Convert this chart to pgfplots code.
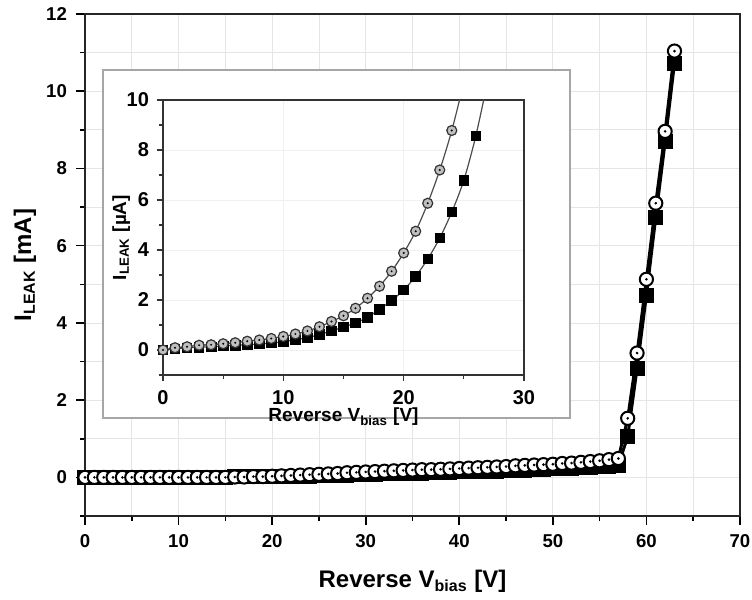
\documentclass[border=0pt]{standalone}
\usepackage{fontspec}
\setmainfont{Liberation Sans}
\usepackage{pgfplots}
\pgfplotsset{compat=1.18}

\pgfdeclareplotmark{codot}{%
  \pgfpathcircle{\pgfpointorigin}{\pgfplotmarksize}%
  \pgfusepathqfillstroke
  \begin{pgfscope}%
    \pgfsetfillcolor{black}%
    \pgfpathcircle{\pgfpointorigin}{0.22\pgfplotmarksize}%
    \pgfusepathqfill
  \end{pgfscope}%
}

\begin{document}
\begin{tikzpicture}
\useasboundingbox (0,0) rectangle (376pt,300pt);

% ---------------- main axis ----------------
\begin{axis}[
  at={(42.5pt,42pt)}, anchor=south west,
  scale only axis, width=327.5pt, height=251pt,
  xmin=0, xmax=70, ymin=-1, ymax=12,
  xtick distance=10, ytick distance=2,
  minor x tick num=1, minor y tick num=1,
  tick pos=left,
  grid=both,
  major grid style={black!10, line width=0.4pt},
  minor grid style={black!10, line width=0.4pt},
  axis line style={black!85, line width=0.9pt},
  tick align=outside,
  major tick length=4.5pt, minor tick length=2.5pt,
  tick style={black, line width=0.8pt},
  /pgf/number format/assume math mode=true,
  ticklabel style={font=\fontsize{9.3}{10}\selectfont\bfseries},
  xticklabel style={yshift=-1pt},
  yticklabel style={xshift=-1pt},
  xlabel={Reverse V\textsubscript{bias} [V]},
  ylabel={I\textsubscript{LEAK} [mA]},
  label style={font=\fontsize{12}{14}\selectfont\bfseries},
  xlabel style={at={(axis description cs:0.5,0)}, anchor=base, yshift=-36pt},
  ylabel style={at={(axis description cs:-0.0916,0.5)}, anchor=center},
]
\addplot[black, line width=1.5pt, mark=square*, mark size=3pt, mark options={solid, fill=black}] coordinates {
(0,0)(1,0)(2,0)(3,0)(4,0)(5,0)(6,0)(7,0)(8,0)(9,0)(10,0)(11,0)(12,0)(13,0)(14,0)(15,0)
(16,0.01)(17,0.01)(18,0.01)(19,0.01)(20,0.01)(21,0.02)(22,0.02)(23,0.03)(24,0.03)(25,0.04)
(26,0.04)(27,0.05)(28,0.06)(29,0.07)(30,0.07)(31,0.08)(32,0.09)(33,0.09)(34,0.10)(35,0.11)
(36,0.11)(37,0.12)(38,0.12)(39,0.13)(40,0.14)(41,0.14)(42,0.15)(43,0.16)(44,0.16)(45,0.17)
(46,0.18)(47,0.19)(48,0.20)(49,0.21)(50,0.22)(51,0.23)(52,0.24)(53,0.25)(54,0.26)(55,0.27)
(56,0.29)(57,0.31)(58,1.06)(59,2.82)(60,4.72)(61,6.74)(62,8.69)(63,10.73)
};
\addplot[black, line width=1.5pt, mark=codot, mark size=3.3pt, mark options={solid, fill=white, draw=black, line width=1pt}] coordinates {
(0,0)(1,0)(2,0)(3,0)(4,0)(5,0)(6,0)(7,0)(8,0)(9,0)(10,0)(11,0)(12,0)(13,0)(14,0)(15,0)
(16,0.01)(17,0.01)(18,0.02)(19,0.02)(20,0.03)(21,0.04)(22,0.05)(23,0.06)(24,0.07)(25,0.08)
(26,0.09)(27,0.10)(28,0.12)(29,0.13)(30,0.14)(31,0.15)(32,0.16)(33,0.17)(34,0.18)(35,0.19)
(36,0.20)(37,0.20)(38,0.21)(39,0.22)(40,0.23)(41,0.24)(42,0.25)(43,0.26)(44,0.27)(45,0.28)
(46,0.30)(47,0.31)(48,0.32)(49,0.33)(50,0.34)(51,0.36)(52,0.37)(53,0.39)(54,0.41)(55,0.43)
(56,0.46)(57,0.49)(58,1.53)(59,3.22)(60,5.13)(61,7.10)(62,8.96)(63,11.04)
};
\end{axis}

% ---------------- inset frame ----------------
\draw[black!35, line width=1pt, fill=white] (51.5pt,91pt) rectangle (285pt,265pt);

% ---------------- inset axis ----------------
\begin{axis}[
  at={(81.5pt,112.5pt)}, anchor=south west,
  scale only axis, width=180.5pt, height=137.5pt,
  xmin=0, xmax=30, ymin=-1, ymax=10,
  xtick distance=10, ytick distance=2,
  minor x tick num=1, minor y tick num=1,
  tick pos=left,
  grid=major,
  major grid style={black!6, line width=0.4pt},
  axis line style={black!80, line width=0.6pt},
  tick align=outside,
  major tick length=3pt, minor tick length=2pt,
  tick style={black!80, line width=0.6pt},
  /pgf/number format/assume math mode=true,
  ticklabel style={font=\fontsize{10}{11}\selectfont\bfseries},
  xticklabel style={yshift=-1pt},
  yticklabel style={xshift=-0.5pt},
  xlabel={Reverse V\textsubscript{bias} [V]},
  ylabel={I\textsubscript{LEAK} [µA]},
  label style={font=\fontsize{9.5}{11}\selectfont\bfseries},
  xlabel style={at={(axis description cs:0.5,0)}, anchor=base, yshift=-23.5pt},
  ylabel style={at={(axis description cs:-0.116,0.5)}, anchor=center},
]
\addplot[black!70, line width=0.6pt, smooth, forget plot] coordinates {
(0,0)(1,0.09)(2,0.13)(3,0.19)(4,0.21)(5,0.25)(6,0.29)(7,0.35)(8,0.40)(9,0.46)(10,0.54)
(11,0.64)(12,0.76)(13,0.93)(14,1.14)(15,1.37)(16,1.67)(17,2.07)(18,2.55)(19,3.15)(20,3.88)
(21,4.75)(22,5.87)(23,7.20)(24,8.78)(25,10.7)
};
\addplot[black!70, line width=0.6pt, smooth, forget plot] coordinates {
(0,0)(1,0.04)(2,0.09)(3,0.11)(4,0.13)(5,0.16)(6,0.19)(7,0.21)(8,0.24)(9,0.28)(10,0.33)
(11,0.41)(12,0.49)(13,0.62)(14,0.76)(15,0.92)(16,1.08)(17,1.31)(18,1.63)(19,1.98)(20,2.40)
(21,2.95)(22,3.64)(23,4.48)(24,5.52)(25,6.79)(26,8.57)(27,10.8)
};
\addplot[only marks, mark=square*, mark size=2.4pt, mark options={fill=black, draw=black}] coordinates {
(0,0)(1,0.04)(2,0.09)(3,0.11)(4,0.13)(5,0.16)(6,0.19)(7,0.21)(8,0.24)(9,0.28)(10,0.33)
(11,0.41)(12,0.49)(13,0.62)(14,0.76)(15,0.92)(16,1.08)(17,1.31)(18,1.63)(19,1.98)(20,2.40)
(21,2.95)(22,3.64)(23,4.48)(24,5.52)(25,6.79)(26,8.57)
};
\addplot[only marks, mark=codot, mark size=2.5pt, mark options={fill=black!25, draw=black!80, line width=0.6pt}] coordinates {
(0,0)(1,0.09)(2,0.13)(3,0.19)(4,0.21)(5,0.25)(6,0.29)(7,0.35)(8,0.40)(9,0.46)(10,0.54)
(11,0.64)(12,0.76)(13,0.93)(14,1.14)(15,1.37)(16,1.67)(17,2.07)(18,2.55)(19,3.15)(20,3.88)
(21,4.75)(22,5.87)(23,7.20)(24,8.78)
};
\end{axis}
\end{tikzpicture}
\end{document}
